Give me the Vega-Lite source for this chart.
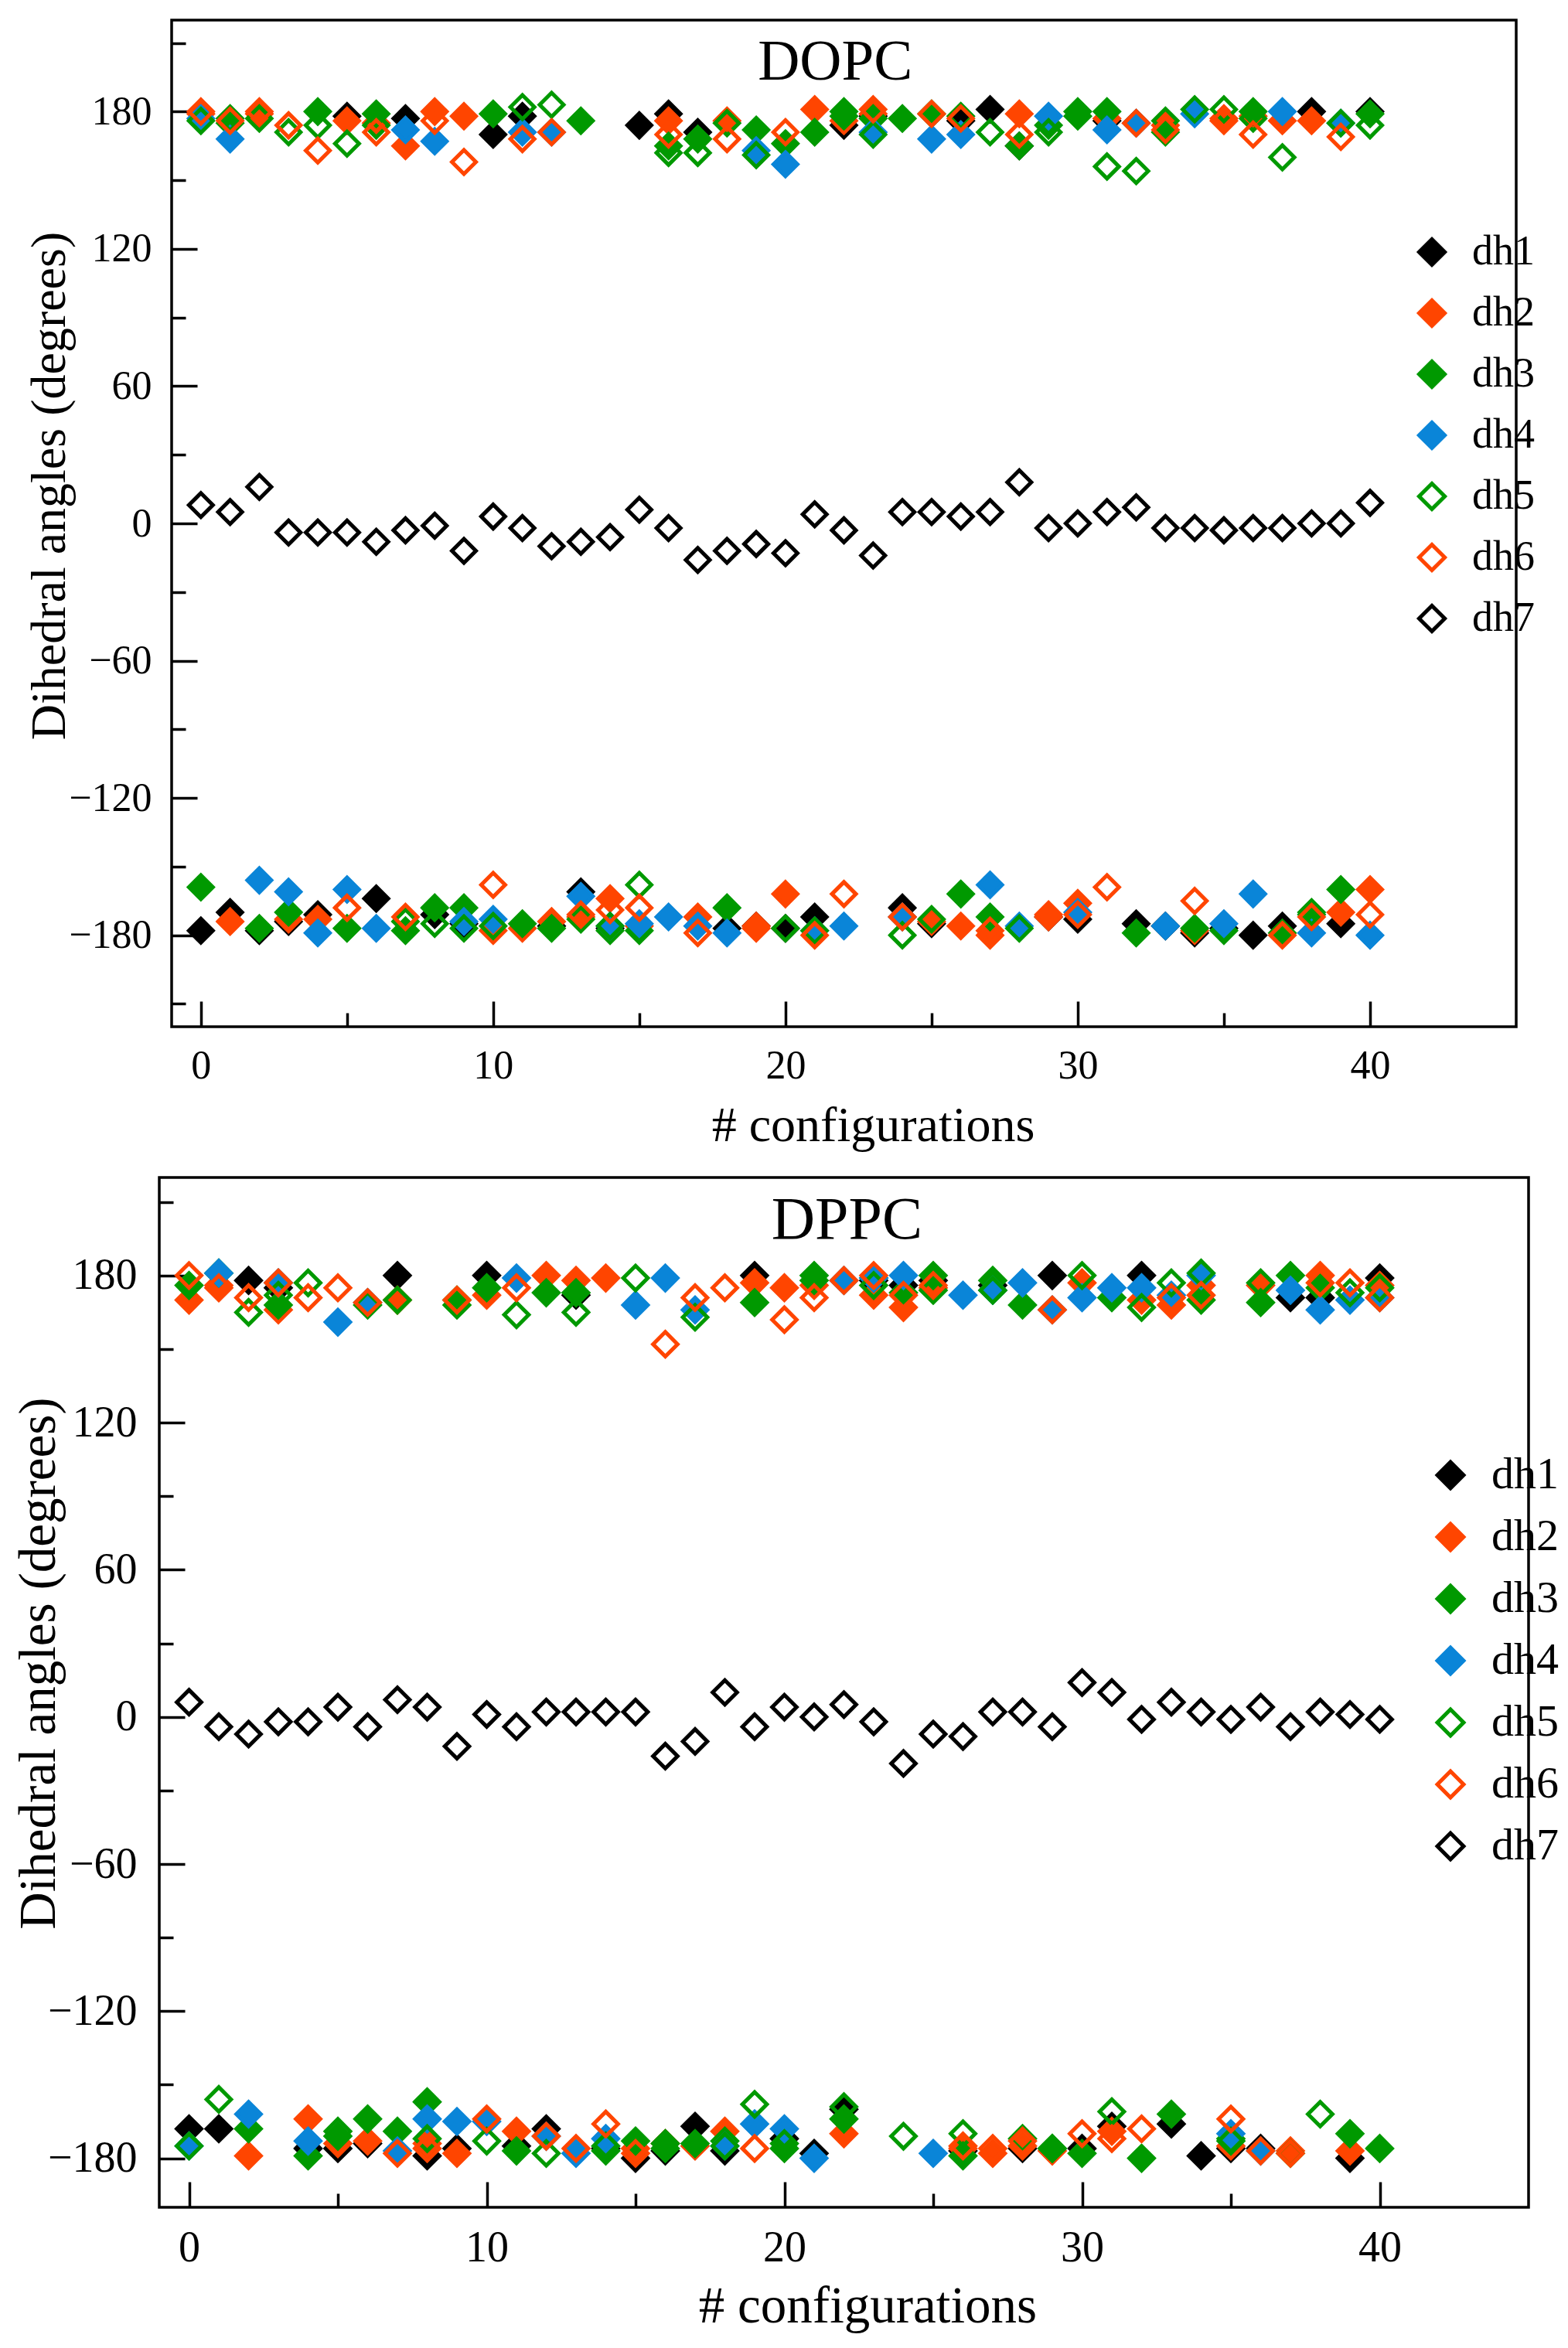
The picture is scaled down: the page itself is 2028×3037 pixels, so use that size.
{
  "$schema": "https://vega.github.io/schema/vega-lite/v6.json",
  "background": "white",
  "padding": {"left": 14, "top": 24, "right": 30, "bottom": 20},
  "bounds": "flush",
  "center": true,
  "spacing": 195,
  "datasets": {
    "dopc": [
      {"c":0,"s":"dh1","v":-178},{"c":1,"s":"dh1","v":-170},{"c":2,"s":"dh1","v":-178},{"c":3,"s":"dh1","v":-174},{"c":4,"s":"dh1","v":-171},{"c":5,"s":"dh1","v":178},{"c":6,"s":"dh1","v":-164},{"c":7,"s":"dh1","v":177},{"c":8,"s":"dh1","v":-171},{"c":9,"s":"dh1","v":-175},{"c":10,"s":"dh1","v":170},{"c":11,"s":"dh1","v":178},{"c":12,"s":"dh1","v":-176},{"c":13,"s":"dh1","v":-161},{"c":14,"s":"dh1","v":-177},{"c":15,"s":"dh1","v":174},{"c":16,"s":"dh1","v":179},{"c":17,"s":"dh1","v":171},{"c":18,"s":"dh1","v":-177},{"c":19,"s":"dh1","v":-176},{"c":20,"s":"dh1","v":-177},{"c":21,"s":"dh1","v":-172},{"c":22,"s":"dh1","v":174},{"c":23,"s":"dh1","v":178},{"c":24,"s":"dh1","v":-168},{"c":25,"s":"dh1","v":-175},{"c":26,"s":"dh1","v":176},{"c":27,"s":"dh1","v":181},{"c":28,"s":"dh1","v":165},{"c":29,"s":"dh1","v":-172},{"c":30,"s":"dh1","v":-173},{"c":31,"s":"dh1","v":176},{"c":32,"s":"dh1","v":-175},{"c":33,"s":"dh1","v":-176},{"c":34,"s":"dh1","v":-179},{"c":35,"s":"dh1","v":-177},{"c":36,"s":"dh1","v":-180},{"c":37,"s":"dh1","v":-176},{"c":38,"s":"dh1","v":180},{"c":39,"s":"dh1","v":-175},{"c":40,"s":"dh1","v":180},
      {"c":0,"s":"dh2","v":179},{"c":1,"s":"dh2","v":-174},{"c":2,"s":"dh2","v":179},{"c":3,"s":"dh2","v":-173},{"c":4,"s":"dh2","v":-173},{"c":5,"s":"dh2","v":176},{"c":6,"s":"dh2","v":175},{"c":7,"s":"dh2","v":165},{"c":8,"s":"dh2","v":180},{"c":9,"s":"dh2","v":178},{"c":10,"s":"dh2","v":-178},{"c":11,"s":"dh2","v":-177},{"c":12,"s":"dh2","v":-174},{"c":13,"s":"dh2","v":-172},{"c":14,"s":"dh2","v":-164},{"c":15,"s":"dh2","v":-176},{"c":16,"s":"dh2","v":176},{"c":17,"s":"dh2","v":-172},{"c":18,"s":"dh2","v":176},{"c":19,"s":"dh2","v":-177},{"c":20,"s":"dh2","v":-162},{"c":21,"s":"dh2","v":181},{"c":22,"s":"dh2","v":176},{"c":23,"s":"dh2","v":179},{"c":24,"s":"dh2","v":-172},{"c":25,"s":"dh2","v":-174},{"c":26,"s":"dh2","v":-176},{"c":27,"s":"dh2","v":-180},{"c":28,"s":"dh2","v":179},{"c":29,"s":"dh2","v":-171},{"c":30,"s":"dh2","v":-166},{"c":31,"s":"dh2","v":177},{"c":32,"s":"dh2","v":175},{"c":33,"s":"dh2","v":174},{"c":34,"s":"dh2","v":-178},{"c":35,"s":"dh2","v":177},{"c":36,"s":"dh2","v":178},{"c":37,"s":"dh2","v":176},{"c":38,"s":"dh2","v":176},{"c":39,"s":"dh2","v":-170},{"c":40,"s":"dh2","v":-160},
      {"c":0,"s":"dh3","v":-159},{"c":1,"s":"dh3","v":175},{"c":2,"s":"dh3","v":-177},{"c":3,"s":"dh3","v":-170},{"c":4,"s":"dh3","v":180},{"c":5,"s":"dh3","v":-177},{"c":6,"s":"dh3","v":179},{"c":7,"s":"dh3","v":-178},{"c":8,"s":"dh3","v":-168},{"c":9,"s":"dh3","v":-168},{"c":10,"s":"dh3","v":179},{"c":11,"s":"dh3","v":-175},{"c":12,"s":"dh3","v":-177},{"c":13,"s":"dh3","v":176},{"c":14,"s":"dh3","v":-178},{"c":15,"s":"dh3","v":-178},{"c":16,"s":"dh3","v":165},{"c":17,"s":"dh3","v":168},{"c":18,"s":"dh3","v":-168},{"c":19,"s":"dh3","v":172},{"c":20,"s":"dh3","v":166},{"c":21,"s":"dh3","v":171},{"c":22,"s":"dh3","v":180},{"c":23,"s":"dh3","v":177},{"c":24,"s":"dh3","v":177},{"c":25,"s":"dh3","v":179},{"c":26,"s":"dh3","v":-162},{"c":27,"s":"dh3","v":-172},{"c":28,"s":"dh3","v":165},{"c":29,"s":"dh3","v":174},{"c":30,"s":"dh3","v":180},{"c":31,"s":"dh3","v":180},{"c":32,"s":"dh3","v":-179},{"c":33,"s":"dh3","v":171},{"c":34,"s":"dh3","v":-177},{"c":35,"s":"dh3","v":-178},{"c":36,"s":"dh3","v":180},{"c":37,"s":"dh3","v":-179},{"c":38,"s":"dh3","v":-171},{"c":39,"s":"dh3","v":-160},{"c":40,"s":"dh3","v":179},
      {"c":0,"s":"dh4","v":177},{"c":1,"s":"dh4","v":168},{"c":2,"s":"dh4","v":-156},{"c":3,"s":"dh4","v":-161},{"c":4,"s":"dh4","v":-179},{"c":5,"s":"dh4","v":-160},{"c":6,"s":"dh4","v":-177},{"c":7,"s":"dh4","v":172},{"c":8,"s":"dh4","v":167},{"c":9,"s":"dh4","v":-174},{"c":10,"s":"dh4","v":-173},{"c":11,"s":"dh4","v":171},{"c":12,"s":"dh4","v":171},{"c":13,"s":"dh4","v":-163},{"c":14,"s":"dh4","v":-176},{"c":15,"s":"dh4","v":-175},{"c":16,"s":"dh4","v":-172},{"c":17,"s":"dh4","v":-176},{"c":18,"s":"dh4","v":-179},{"c":19,"s":"dh4","v":163},{"c":20,"s":"dh4","v":157},{"c":21,"s":"dh4","v":-178},{"c":22,"s":"dh4","v":-176},{"c":23,"s":"dh4","v":171},{"c":24,"s":"dh4","v":-172},{"c":25,"s":"dh4","v":168},{"c":26,"s":"dh4","v":170},{"c":27,"s":"dh4","v":-158},{"c":28,"s":"dh4","v":-176},{"c":29,"s":"dh4","v":178},{"c":30,"s":"dh4","v":-170},{"c":31,"s":"dh4","v":172},{"c":32,"s":"dh4","v":175},{"c":33,"s":"dh4","v":-176},{"c":34,"s":"dh4","v":179},{"c":35,"s":"dh4","v":-175},{"c":36,"s":"dh4","v":-162},{"c":37,"s":"dh4","v":180},{"c":38,"s":"dh4","v":-179},{"c":39,"s":"dh4","v":175},{"c":40,"s":"dh4","v":-180},
      {"c":0,"s":"dh5","v":176},{"c":1,"s":"dh5","v":177},{"c":2,"s":"dh5","v":177},{"c":3,"s":"dh5","v":171},{"c":4,"s":"dh5","v":174},{"c":5,"s":"dh5","v":166},{"c":6,"s":"dh5","v":174},{"c":7,"s":"dh5","v":-174},{"c":8,"s":"dh5","v":-175},{"c":9,"s":"dh5","v":-177},{"c":10,"s":"dh5","v":-176},{"c":11,"s":"dh5","v":182},{"c":12,"s":"dh5","v":183},{"c":13,"s":"dh5","v":-173},{"c":14,"s":"dh5","v":-176},{"c":15,"s":"dh5","v":-158},{"c":16,"s":"dh5","v":162},{"c":17,"s":"dh5","v":162},{"c":18,"s":"dh5","v":175},{"c":19,"s":"dh5","v":161},{"c":20,"s":"dh5","v":-177},{"c":21,"s":"dh5","v":-178},{"c":22,"s":"dh5","v":178},{"c":23,"s":"dh5","v":170},{"c":24,"s":"dh5","v":-180},{"c":25,"s":"dh5","v":-173},{"c":26,"s":"dh5","v":178},{"c":27,"s":"dh5","v":171},{"c":28,"s":"dh5","v":-177},{"c":29,"s":"dh5","v":171},{"c":30,"s":"dh5","v":178},{"c":31,"s":"dh5","v":156},{"c":32,"s":"dh5","v":154},{"c":33,"s":"dh5","v":176},{"c":34,"s":"dh5","v":181},{"c":35,"s":"dh5","v":181},{"c":36,"s":"dh5","v":177},{"c":37,"s":"dh5","v":160},{"c":38,"s":"dh5","v":-170},{"c":39,"s":"dh5","v":175},{"c":40,"s":"dh5","v":174},
      {"c":0,"s":"dh6","v":180},{"c":1,"s":"dh6","v":176},{"c":2,"s":"dh6","v":180},{"c":3,"s":"dh6","v":174},{"c":4,"s":"dh6","v":163},{"c":5,"s":"dh6","v":-168},{"c":6,"s":"dh6","v":171},{"c":7,"s":"dh6","v":-172},{"c":8,"s":"dh6","v":176},{"c":9,"s":"dh6","v":158},{"c":10,"s":"dh6","v":-158},{"c":11,"s":"dh6","v":168},{"c":12,"s":"dh6","v":171},{"c":13,"s":"dh6","v":-171},{"c":14,"s":"dh6","v":-169},{"c":15,"s":"dh6","v":-168},{"c":16,"s":"dh6","v":170},{"c":17,"s":"dh6","v":-179},{"c":18,"s":"dh6","v":168},{"c":19,"s":"dh6","v":-176},{"c":20,"s":"dh6","v":171},{"c":21,"s":"dh6","v":-180},{"c":22,"s":"dh6","v":-162},{"c":23,"s":"dh6","v":181},{"c":24,"s":"dh6","v":-172},{"c":25,"s":"dh6","v":179},{"c":26,"s":"dh6","v":177},{"c":27,"s":"dh6","v":-178},{"c":28,"s":"dh6","v":170},{"c":29,"s":"dh6","v":-172},{"c":30,"s":"dh6","v":-171},{"c":31,"s":"dh6","v":-159},{"c":32,"s":"dh6","v":175},{"c":33,"s":"dh6","v":172},{"c":34,"s":"dh6","v":-165},{"c":35,"s":"dh6","v":176},{"c":36,"s":"dh6","v":170},{"c":37,"s":"dh6","v":-180},{"c":38,"s":"dh6","v":-172},{"c":39,"s":"dh6","v":169},{"c":40,"s":"dh6","v":-171},
      {"c":0,"s":"dh7","v":8},{"c":1,"s":"dh7","v":5},{"c":2,"s":"dh7","v":16},{"c":3,"s":"dh7","v":-4},{"c":4,"s":"dh7","v":-4},{"c":5,"s":"dh7","v":-4},{"c":6,"s":"dh7","v":-8},{"c":7,"s":"dh7","v":-3},{"c":8,"s":"dh7","v":-1},{"c":9,"s":"dh7","v":-12},{"c":10,"s":"dh7","v":3},{"c":11,"s":"dh7","v":-2},{"c":12,"s":"dh7","v":-10},{"c":13,"s":"dh7","v":-8},{"c":14,"s":"dh7","v":-6},{"c":15,"s":"dh7","v":6},{"c":16,"s":"dh7","v":-2},{"c":17,"s":"dh7","v":-16},{"c":18,"s":"dh7","v":-12},{"c":19,"s":"dh7","v":-9},{"c":20,"s":"dh7","v":-13},{"c":21,"s":"dh7","v":4},{"c":22,"s":"dh7","v":-3},{"c":23,"s":"dh7","v":-14},{"c":24,"s":"dh7","v":5},{"c":25,"s":"dh7","v":5},{"c":26,"s":"dh7","v":3},{"c":27,"s":"dh7","v":5},{"c":28,"s":"dh7","v":18},{"c":29,"s":"dh7","v":-2},{"c":30,"s":"dh7","v":0},{"c":31,"s":"dh7","v":5},{"c":32,"s":"dh7","v":7},{"c":33,"s":"dh7","v":-2},{"c":34,"s":"dh7","v":-2},{"c":35,"s":"dh7","v":-3},{"c":36,"s":"dh7","v":-2},{"c":37,"s":"dh7","v":-2},{"c":38,"s":"dh7","v":0},{"c":39,"s":"dh7","v":0},{"c":40,"s":"dh7","v":9}
    ],
    "dppc": [
      {"c":0,"s":"dh1","v":-168},{"c":1,"s":"dh1","v":-168},{"c":2,"s":"dh1","v":178},{"c":3,"s":"dh1","v":175},{"c":4,"s":"dh1","v":-176},{"c":5,"s":"dh1","v":-176},{"c":6,"s":"dh1","v":-174},{"c":7,"s":"dh1","v":180},{"c":8,"s":"dh1","v":-179},{"c":9,"s":"dh1","v":-176},{"c":10,"s":"dh1","v":180},{"c":11,"s":"dh1","v":-175},{"c":12,"s":"dh1","v":-168},{"c":13,"s":"dh1","v":172},{"c":14,"s":"dh1","v":-176},{"c":15,"s":"dh1","v":-180},{"c":16,"s":"dh1","v":-177},{"c":17,"s":"dh1","v":-167},{"c":18,"s":"dh1","v":-177},{"c":19,"s":"dh1","v":180},{"c":20,"s":"dh1","v":-172},{"c":21,"s":"dh1","v":-178},{"c":22,"s":"dh1","v":-160},{"c":23,"s":"dh1","v":178},{"c":24,"s":"dh1","v":176},{"c":25,"s":"dh1","v":178},{"c":26,"s":"dh1","v":-177},{"c":27,"s":"dh1","v":176},{"c":28,"s":"dh1","v":-176},{"c":29,"s":"dh1","v":180},{"c":30,"s":"dh1","v":-176},{"c":31,"s":"dh1","v":-167},{"c":32,"s":"dh1","v":180},{"c":33,"s":"dh1","v":-166},{"c":34,"s":"dh1","v":-179},{"c":35,"s":"dh1","v":-176},{"c":36,"s":"dh1","v":-176},{"c":37,"s":"dh1","v":171},{"c":38,"s":"dh1","v":171},{"c":39,"s":"dh1","v":-180},{"c":40,"s":"dh1","v":179},
      {"c":0,"s":"dh2","v":170},{"c":1,"s":"dh2","v":176},{"c":2,"s":"dh2","v":-179},{"c":3,"s":"dh2","v":166},{"c":4,"s":"dh2","v":-164},{"c":5,"s":"dh2","v":-174},{"c":6,"s":"dh2","v":-173},{"c":7,"s":"dh2","v":170},{"c":8,"s":"dh2","v":-174},{"c":9,"s":"dh2","v":-178},{"c":10,"s":"dh2","v":172},{"c":11,"s":"dh2","v":-169},{"c":12,"s":"dh2","v":180},{"c":13,"s":"dh2","v":178},{"c":14,"s":"dh2","v":179},{"c":15,"s":"dh2","v":-176},{"c":16,"s":"dh2","v":-174},{"c":17,"s":"dh2","v":-175},{"c":18,"s":"dh2","v":-169},{"c":19,"s":"dh2","v":177},{"c":20,"s":"dh2","v":175},{"c":21,"s":"dh2","v":176},{"c":22,"s":"dh2","v":-170},{"c":23,"s":"dh2","v":172},{"c":24,"s":"dh2","v":167},{"c":25,"s":"dh2","v":175},{"c":26,"s":"dh2","v":-176},{"c":27,"s":"dh2","v":-178},{"c":28,"s":"dh2","v":-175},{"c":29,"s":"dh2","v":-177},{"c":30,"s":"dh2","v":177},{"c":31,"s":"dh2","v":-169},{"c":32,"s":"dh2","v":170},{"c":33,"s":"dh2","v":168},{"c":34,"s":"dh2","v":176},{"c":35,"s":"dh2","v":-175},{"c":36,"s":"dh2","v":176},{"c":37,"s":"dh2","v":-177},{"c":38,"s":"dh2","v":180},{"c":39,"s":"dh2","v":-177},{"c":40,"s":"dh2","v":176},
      {"c":0,"s":"dh3","v":176},{"c":1,"s":"dh3","v":181},{"c":2,"s":"dh3","v":-168},{"c":3,"s":"dh3","v":168},{"c":4,"s":"dh3","v":-179},{"c":5,"s":"dh3","v":-171},{"c":6,"s":"dh3","v":-164},{"c":7,"s":"dh3","v":-169},{"c":8,"s":"dh3","v":-157},{"c":9,"s":"dh3","v":170},{"c":10,"s":"dh3","v":175},{"c":11,"s":"dh3","v":-177},{"c":12,"s":"dh3","v":173},{"c":13,"s":"dh3","v":173},{"c":14,"s":"dh3","v":-177},{"c":15,"s":"dh3","v":-173},{"c":16,"s":"dh3","v":-176},{"c":17,"s":"dh3","v":-174},{"c":18,"s":"dh3","v":-173},{"c":19,"s":"dh3","v":169},{"c":20,"s":"dh3","v":-176},{"c":21,"s":"dh3","v":180},{"c":22,"s":"dh3","v":-164},{"c":23,"s":"dh3","v":179},{"c":24,"s":"dh3","v":173},{"c":25,"s":"dh3","v":180},{"c":26,"s":"dh3","v":-179},{"c":27,"s":"dh3","v":178},{"c":28,"s":"dh3","v":168},{"c":29,"s":"dh3","v":-176},{"c":30,"s":"dh3","v":-178},{"c":31,"s":"dh3","v":171},{"c":32,"s":"dh3","v":-180},{"c":33,"s":"dh3","v":-162},{"c":34,"s":"dh3","v":170},{"c":35,"s":"dh3","v":-172},{"c":36,"s":"dh3","v":169},{"c":37,"s":"dh3","v":180},{"c":38,"s":"dh3","v":175},{"c":39,"s":"dh3","v":-170},{"c":40,"s":"dh3","v":-176},
      {"c":0,"s":"dh4","v":-175},{"c":1,"s":"dh4","v":181},{"c":2,"s":"dh4","v":-162},{"c":3,"s":"dh4","v":177},{"c":4,"s":"dh4","v":-173},{"c":5,"s":"dh4","v":161},{"c":6,"s":"dh4","v":169},{"c":7,"s":"dh4","v":-177},{"c":8,"s":"dh4","v":-164},{"c":9,"s":"dh4","v":-165},{"c":10,"s":"dh4","v":-165},{"c":11,"s":"dh4","v":179},{"c":12,"s":"dh4","v":-171},{"c":13,"s":"dh4","v":-178},{"c":14,"s":"dh4","v":-172},{"c":15,"s":"dh4","v":168},{"c":16,"s":"dh4","v":179},{"c":17,"s":"dh4","v":166},{"c":18,"s":"dh4","v":-175},{"c":19,"s":"dh4","v":-166},{"c":20,"s":"dh4","v":-168},{"c":21,"s":"dh4","v":-180},{"c":22,"s":"dh4","v":178},{"c":23,"s":"dh4","v":179},{"c":24,"s":"dh4","v":180},{"c":25,"s":"dh4","v":-178},{"c":26,"s":"dh4","v":172},{"c":27,"s":"dh4","v":174},{"c":28,"s":"dh4","v":177},{"c":29,"s":"dh4","v":166},{"c":30,"s":"dh4","v":171},{"c":31,"s":"dh4","v":175},{"c":32,"s":"dh4","v":175},{"c":33,"s":"dh4","v":172},{"c":34,"s":"dh4","v":180},{"c":35,"s":"dh4","v":-170},{"c":36,"s":"dh4","v":-177},{"c":37,"s":"dh4","v":174},{"c":38,"s":"dh4","v":166},{"c":39,"s":"dh4","v":170},{"c":40,"s":"dh4","v":171},
      {"c":0,"s":"dh5","v":-175},{"c":1,"s":"dh5","v":-156},{"c":2,"s":"dh5","v":165},{"c":3,"s":"dh5","v":172},{"c":4,"s":"dh5","v":177},{"c":5,"s":"dh5","v":-169},{"c":6,"s":"dh5","v":168},{"c":7,"s":"dh5","v":170},{"c":8,"s":"dh5","v":-172},{"c":9,"s":"dh5","v":168},{"c":10,"s":"dh5","v":-173},{"c":11,"s":"dh5","v":164},{"c":12,"s":"dh5","v":-178},{"c":13,"s":"dh5","v":165},{"c":14,"s":"dh5","v":-175},{"c":15,"s":"dh5","v":179},{"c":16,"s":"dh5","v":-174},{"c":17,"s":"dh5","v":163},{"c":18,"s":"dh5","v":-175},{"c":19,"s":"dh5","v":-158},{"c":20,"s":"dh5","v":-174},{"c":21,"s":"dh5","v":178},{"c":22,"s":"dh5","v":-159},{"c":23,"s":"dh5","v":176},{"c":24,"s":"dh5","v":-171},{"c":25,"s":"dh5","v":174},{"c":26,"s":"dh5","v":-170},{"c":27,"s":"dh5","v":174},{"c":28,"s":"dh5","v":-172},{"c":29,"s":"dh5","v":-176},{"c":30,"s":"dh5","v":180},{"c":31,"s":"dh5","v":-161},{"c":32,"s":"dh5","v":167},{"c":33,"s":"dh5","v":177},{"c":34,"s":"dh5","v":181},{"c":35,"s":"dh5","v":-173},{"c":36,"s":"dh5","v":177},{"c":37,"s":"dh5","v":-178},{"c":38,"s":"dh5","v":-162},{"c":39,"s":"dh5","v":173},{"c":40,"s":"dh5","v":175},
      {"c":0,"s":"dh6","v":180},{"c":1,"s":"dh6","v":175},{"c":2,"s":"dh6","v":171},{"c":3,"s":"dh6","v":177},{"c":4,"s":"dh6","v":171},{"c":5,"s":"dh6","v":175},{"c":6,"s":"dh6","v":169},{"c":7,"s":"dh6","v":-178},{"c":8,"s":"dh6","v":-176},{"c":9,"s":"dh6","v":170},{"c":10,"s":"dh6","v":-164},{"c":11,"s":"dh6","v":175},{"c":12,"s":"dh6","v":-171},{"c":13,"s":"dh6","v":-176},{"c":14,"s":"dh6","v":-166},{"c":15,"s":"dh6","v":-178},{"c":16,"s":"dh6","v":152},{"c":17,"s":"dh6","v":171},{"c":18,"s":"dh6","v":175},{"c":19,"s":"dh6","v":-176},{"c":20,"s":"dh6","v":162},{"c":21,"s":"dh6","v":171},{"c":22,"s":"dh6","v":178},{"c":23,"s":"dh6","v":180},{"c":24,"s":"dh6","v":172},{"c":25,"s":"dh6","v":176},{"c":26,"s":"dh6","v":-175},{"c":27,"s":"dh6","v":-176},{"c":28,"s":"dh6","v":-173},{"c":29,"s":"dh6","v":166},{"c":30,"s":"dh6","v":-170},{"c":31,"s":"dh6","v":-172},{"c":32,"s":"dh6","v":-168},{"c":33,"s":"dh6","v":171},{"c":34,"s":"dh6","v":172},{"c":35,"s":"dh6","v":-164},{"c":36,"s":"dh6","v":-177},{"c":37,"s":"dh6","v":-178},{"c":38,"s":"dh6","v":177},{"c":39,"s":"dh6","v":177},{"c":40,"s":"dh6","v":171},
      {"c":0,"s":"dh7","v":6},{"c":1,"s":"dh7","v":-4},{"c":2,"s":"dh7","v":-7},{"c":3,"s":"dh7","v":-2},{"c":4,"s":"dh7","v":-2},{"c":5,"s":"dh7","v":4},{"c":6,"s":"dh7","v":-4},{"c":7,"s":"dh7","v":7},{"c":8,"s":"dh7","v":4},{"c":9,"s":"dh7","v":-12},{"c":10,"s":"dh7","v":1},{"c":11,"s":"dh7","v":-4},{"c":12,"s":"dh7","v":2},{"c":13,"s":"dh7","v":2},{"c":14,"s":"dh7","v":2},{"c":15,"s":"dh7","v":2},{"c":16,"s":"dh7","v":-16},{"c":17,"s":"dh7","v":-10},{"c":18,"s":"dh7","v":10},{"c":19,"s":"dh7","v":-4},{"c":20,"s":"dh7","v":4},{"c":21,"s":"dh7","v":0},{"c":22,"s":"dh7","v":5},{"c":23,"s":"dh7","v":-2},{"c":24,"s":"dh7","v":-19},{"c":25,"s":"dh7","v":-7},{"c":26,"s":"dh7","v":-8},{"c":27,"s":"dh7","v":2},{"c":28,"s":"dh7","v":2},{"c":29,"s":"dh7","v":-4},{"c":30,"s":"dh7","v":14},{"c":31,"s":"dh7","v":10},{"c":32,"s":"dh7","v":-1},{"c":33,"s":"dh7","v":6},{"c":34,"s":"dh7","v":2},{"c":35,"s":"dh7","v":-1},{"c":36,"s":"dh7","v":4},{"c":37,"s":"dh7","v":-4},{"c":38,"s":"dh7","v":2},{"c":39,"s":"dh7","v":1},{"c":40,"s":"dh7","v":-1}
    ]
  },
  "vconcat": [
    {
      "width": 1739,
      "height": 1302,
      "layer": [
        {
          "data": {"name": "dopc"},
          "mark": {"type": "point", "shape": "diamond", "size": 960, "strokeWidth": 5, "opacity": 1},
          "encoding": {
            "x": {
              "field": "c", "type": "quantitative", "title": "# configurations",
              "scale": {"domain": [-1, 45], "nice": false, "zero": false},
              "axis": {
                "values": [0, 5, 10, 15, 20, 25, 30, 35, 40],
                "labelExpr": "datum.value % 10 === 0 ? datum.label : ''",
                "tickSize": {"condition": {"test": "datum.value % 10 === 0", "value": -33}, "value": -18},
                "tickWidth": 3.5, "tickColor": "black", "domain": false, "grid": false,
                "labelFont": "Liberation Serif", "labelFontSize": 52, "labelColor": "black", "labelPadding": 58, "labelFlush": false, "labelOverlap": false,
                "titleFont": "Liberation Serif", "titleFontSize": 64, "titleFontWeight": "normal", "titleColor": "black",
                "titleX": 907, "titleY": 128, "titleBaseline": "middle"
              }
            },
            "y": {
              "field": "v", "type": "quantitative", "title": "Dihedral angles (degrees)",
              "scale": {"domain": [-220, 220], "nice": false, "zero": false},
              "axis": {
                "values": [-210, -180, -150, -120, -90, -60, -30, 0, 30, 60, 90, 120, 150, 180, 210],
                "labelExpr": "datum.value % 60 === 0 ? datum.label : ''",
                "tickSize": {"condition": {"test": "datum.value % 60 === 0", "value": -33}, "value": -18},
                "tickWidth": 3.5, "tickColor": "black", "domain": false, "grid": false,
                "labelFont": "Liberation Serif", "labelFontSize": 52, "labelColor": "black", "labelPadding": 59, "labelOverlap": false,
                "titleFont": "Liberation Serif", "titleFontSize": 64, "titleFontWeight": "normal", "titleColor": "black",
                "titleX": -158, "titleY": 602, "titleBaseline": "middle"
              }
            },
            "fill": {
              "field": "s", "type": "nominal",
              "scale": {"domain": ["dh1", "dh2", "dh3", "dh4", "dh5", "dh6", "dh7"], "range": ["#000000", "#FF4500", "#009900", "#0A85D8", "transparent", "transparent", "transparent"]},
              "legend": {"title": null, "orient": "none", "legendX": 1603, "legendY": 273, "padding": 0, "symbolType": "diamond", "symbolSize": 1100, "symbolStrokeWidth": 5, "labelFont": "Liberation Serif", "labelFontSize": 54, "labelColor": "black", "labelOffset": 25, "rowPadding": 25}
            },
            "stroke": {
              "field": "s", "type": "nominal",
              "scale": {"domain": ["dh1", "dh2", "dh3", "dh4", "dh5", "dh6", "dh7"], "range": ["#000000", "#FF4500", "#009900", "#0A85D8", "#009900", "#FF4500", "#000000"]},
              "legend": {"title": null, "orient": "none", "legendX": 1603, "legendY": 273, "padding": 0, "symbolType": "diamond", "symbolSize": 1100, "symbolStrokeWidth": 5, "labelFont": "Liberation Serif", "labelFontSize": 54, "labelColor": "black", "labelOffset": 25, "rowPadding": 25}
            }
          }
        },
        {
          "data": {"values": [{"name": "DOPC"}]},
          "mark": {"type": "text", "font": "Liberation Serif", "fontSize": 75, "color": "black", "align": "center", "baseline": "middle"},
          "encoding": {
            "x": {"datum": 21.7, "type": "quantitative"},
            "y": {"datum": 201.7, "type": "quantitative"},
            "text": {"field": "name", "type": "nominal"}
          }
        }
      ]
    },
    {
      "width": 1771,
      "height": 1332,
      "layer": [
        {
          "data": {"name": "dppc"},
          "mark": {"type": "point", "shape": "diamond", "size": 1000, "strokeWidth": 5, "opacity": 1},
          "encoding": {
            "x": {
              "field": "c", "type": "quantitative", "title": "# configurations",
              "scale": {"domain": [-1, 45], "nice": false, "zero": false},
              "axis": {
                "values": [0, 5, 10, 15, 20, 25, 30, 35, 40],
                "labelExpr": "datum.value % 10 === 0 ? datum.label : ''",
                "tickSize": {"condition": {"test": "datum.value % 10 === 0", "value": -33}, "value": -18},
                "tickWidth": 3.5, "tickColor": "black", "domain": false, "grid": false,
                "labelFont": "Liberation Serif", "labelFontSize": 56, "labelColor": "black", "labelPadding": 58, "labelFlush": false, "labelOverlap": false,
                "titleFont": "Liberation Serif", "titleFontSize": 67, "titleFontWeight": "normal", "titleColor": "black",
                "titleX": 916, "titleY": 128, "titleBaseline": "middle"
              }
            },
            "y": {
              "field": "v", "type": "quantitative", "title": "Dihedral angles (degrees)",
              "scale": {"domain": [-200, 220], "nice": false, "zero": false},
              "axis": {
                "values": [-180, -150, -120, -90, -60, -30, 0, 30, 60, 90, 120, 150, 180, 210],
                "labelExpr": "datum.value % 60 === 0 ? datum.label : ''",
                "tickSize": {"condition": {"test": "datum.value % 60 === 0", "value": -33}, "value": -18},
                "tickWidth": 3.5, "tickColor": "black", "domain": false, "grid": false,
                "labelFont": "Liberation Serif", "labelFontSize": 56, "labelColor": "black", "labelPadding": 62, "labelOverlap": false,
                "titleFont": "Liberation Serif", "titleFontSize": 67, "titleFontWeight": "normal", "titleColor": "black",
                "titleX": -156, "titleY": 628, "titleBaseline": "middle"
              }
            },
            "fill": {
              "field": "s", "type": "nominal",
              "scale": {"domain": ["dh1", "dh2", "dh3", "dh4", "dh5", "dh6", "dh7"], "range": ["#000000", "#FF4500", "#009900", "#0A85D8", "transparent", "transparent", "transparent"]},
              "legend": {"title": null, "orient": "none", "legendX": 1641, "legendY": 356, "padding": 0, "symbolType": "diamond", "symbolSize": 1150, "symbolStrokeWidth": 5, "labelFont": "Liberation Serif", "labelFontSize": 58, "labelColor": "black", "labelOffset": 24, "rowPadding": 22}
            },
            "stroke": {
              "field": "s", "type": "nominal",
              "scale": {"domain": ["dh1", "dh2", "dh3", "dh4", "dh5", "dh6", "dh7"], "range": ["#000000", "#FF4500", "#009900", "#0A85D8", "#009900", "#FF4500", "#000000"]},
              "legend": {"title": null, "orient": "none", "legendX": 1641, "legendY": 356, "padding": 0, "symbolType": "diamond", "symbolSize": 1150, "symbolStrokeWidth": 5, "labelFont": "Liberation Serif", "labelFontSize": 58, "labelColor": "black", "labelOffset": 24, "rowPadding": 22}
            }
          }
        },
        {
          "data": {"values": [{"name": "DPPC"}]},
          "mark": {"type": "text", "font": "Liberation Serif", "fontSize": 78, "color": "black", "align": "center", "baseline": "middle"},
          "encoding": {
            "x": {"datum": 22.1, "type": "quantitative"},
            "y": {"datum": 202.5, "type": "quantitative"},
            "text": {"field": "name", "type": "nominal"}
          }
        }
      ]
    }
  ],
  "resolve": {
    "scale": {"x": "independent", "y": "independent", "fill": "independent", "stroke": "independent"},
    "legend": {"fill": "independent", "stroke": "independent"}
  },
  "config": {
    "font": "Liberation Serif",
    "view": {"stroke": "black", "strokeWidth": 3.5}
  }
}
